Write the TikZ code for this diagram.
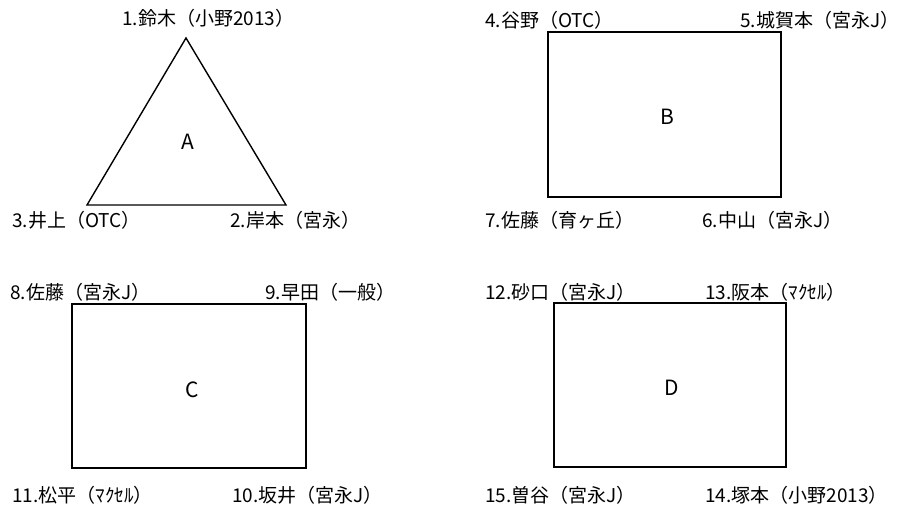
\documentclass[tikz,border=0pt]{standalone}
\usepackage{fontspec}
\setmainfont{Noto Sans CJK JP}
\begin{document}
\begin{tikzpicture}[x=1pt,y=-1pt,
  shape line/.style={draw=black,line width=1.4pt,line join=miter},
  lbl/.style={anchor=west,inner sep=0pt,font=\fontsize{19}{22}\selectfont},
  big/.style={inner sep=0pt,font=\fontsize{21}{24}\selectfont}]
\useasboundingbox (0,0) rectangle (900,507);
% A triangle
\coordinate (t1) at (186,38);
\coordinate (t2) at (286,205);
\coordinate (t3) at (87,205);
\draw[shape line] (t1) -- (t2) -- (t3) -- cycle;
\node[big] (A) at (188,142) {A};
% B, C, D rectangles
\node[shape line,minimum width=233pt,minimum height=165pt,inner sep=0pt] (B) at (664.5,114.5) {};
\node[big] (Bl) at (667,117) {B};
\node[shape line,minimum width=234pt,minimum height=164pt,inner sep=0pt] (C) at (189,386) {};
\node[big] (Cl) at (192,390) {C};
\node[shape line,minimum width=232pt,minimum height=164pt,inner sep=0pt] (D) at (670,385) {};
\node[big] (Dl) at (672,388) {D};
% labels
\node[lbl] (n1) at (122,18) {1.鈴木（小野2013）};
\node[lbl] (n2) at (230,220) {2.岸本（宮永）};
\node[lbl] (n3) at (12,220) {3.井上（OTC）};
\node[lbl] (n4) at (485,20) {4.谷野（OTC）};
\node[lbl] (n5) at (740,20) {5.城賀本（宮永J）};
\node[lbl] (n6) at (702,220) {6.中山（宮永J）};
\node[lbl] (n7) at (485,220) {7.佐藤（育ヶ丘）};
\node[lbl] (n8) at (10,292) {8.佐藤（宮永J）};
\node[lbl] (n9) at (265,292) {9.早田（一般）};
\node[lbl] (n10) at (232,495) {10.坂井（宮永J）};
\node[lbl] (n11) at (12,495) {11.松平（ﾏｸｾﾙ）};
\node[lbl] (n12) at (485,292) {12.砂口（宮永J）};
\node[lbl] (n13) at (705,292) {13.阪本（ﾏｸｾﾙ）};
\node[lbl] (n14) at (705,495) {14.塚本（小野2013）};
\node[lbl] (n15) at (485,495) {15.曽谷（宮永J）};
\end{tikzpicture}
\end{document}
